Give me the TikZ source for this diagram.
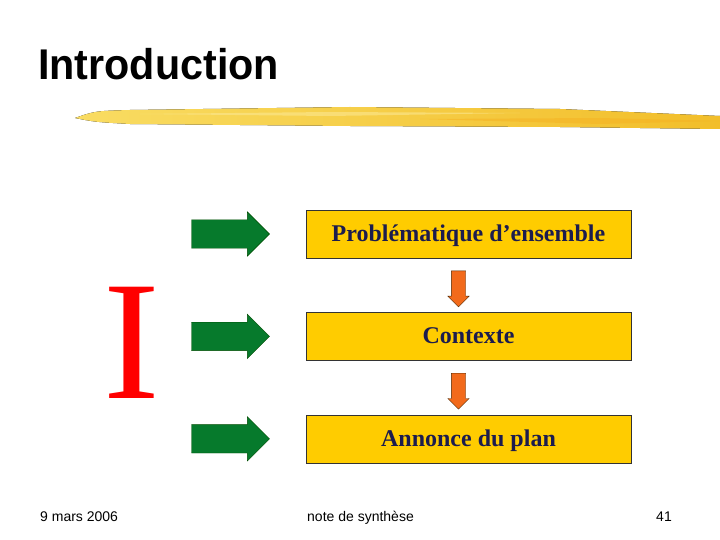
\documentclass[tikz,border=0pt]{standalone}
\usepackage{fontspec}
\setmainfont{Liberation Serif}
\newfontfamily\sansf{Liberation Sans}
\usetikzlibrary{positioning, calc, shapes.arrows}

\definecolor{boxgold}{HTML}{FFCC00}
\definecolor{boxtext}{HTML}{1C1C4E}
\definecolor{arrgreen}{HTML}{067A2C}
\definecolor{arrorange}{HTML}{F26A1B}
\definecolor{brushA}{HTML}{F9DC62}
\definecolor{brushB}{HTML}{F2BE2A}

\begin{document}
\begin{tikzpicture}[
    x=1pt, y=-1pt,
    node distance=54pt,
    step box/.style={
        rectangle,
        draw=black!80,
        fill=boxgold,
        text=boxtext,
        minimum width=325pt,
        minimum height=48pt,
        text depth=2pt,
        font=\fontsize{24}{26}\selectfont\bfseries
    },
    green arrow/.style={
        single arrow,
        draw=black!70!green,
        fill=arrgreen,
        inner xsep=0pt,
        inner ysep=14pt,
        minimum width=44pt,
        minimum height=78pt,
        single arrow head extend=8pt
    },
    down arrow/.style={
        single arrow,
        rotate=-90,
        draw=black!70!orange,
        fill=arrorange,
        inner xsep=0pt,
        inner ysep=7pt,
        minimum width=21pt,
        minimum height=36pt,
        single arrow head extend=3.5pt
    },
    foot/.style={font=\sansf\fontsize{14}{16}\selectfont, anchor=base west, inner sep=0pt}
]
\useasboundingbox (0,0) rectangle (720,540);

% title and brush stroke
\node[anchor=base west, inner sep=0pt, font=\sansf\bfseries\fontsize{43}{48}\selectfont] (title) at (38,80) {\scalebox{0.96}[1]{Introduction}};
\fill[left color=brushA, right color=brushB]
    (75,118) .. controls (95,111) .. (130,110) -- (350,107) -- (560,109) -- (720,116)
    -- (720,129) -- (560,127) -- (350,126) -- (130,124) .. controls (95,122) .. cycle;
\fill[brushA!70!white, opacity=0.6] (140,114) -- (330,112) -- (520,113) -- (330,116) -- cycle;
\fill[brushB!80!orange, opacity=0.5] (420,119) -- (600,118) -- (720,121) -- (600,124) -- cycle;

% boxes
\node[step box] (prob) at (468.5,234) {Probl\'ematique d’ensemble};
\node[step box] (ctx) [below=of prob] {Contexte};
\node[step box] (plan) [below=of ctx] {Annonce du plan};

% arrows
\node[green arrow] (g1) [left=36pt of prob] {};
\node[green arrow] (g2) [left=36pt of ctx] {};
\node[green arrow] (g3) [left=36pt of plan] {};

\node[down arrow] (o1) at ($(prob.south)!0.5!(ctx.north)+(-10,0)$) {};
\node[down arrow] (o2) at ($(ctx.south)!0.5!(plan.north)+(-10,0)$) {};

% big letter
\node[anchor=base, inner sep=0pt, text=red, font=\fontsize{170}{170}\selectfont] (bigI) at (132,398) {I};

% footer
\node[foot] (date) at (40,521) {9 mars 2006};
\node[foot] (note) at (307,521) {note de synthèse};
\node[foot, anchor=base east] (page) at (672,521) {41};

\end{tikzpicture}
\end{document}
